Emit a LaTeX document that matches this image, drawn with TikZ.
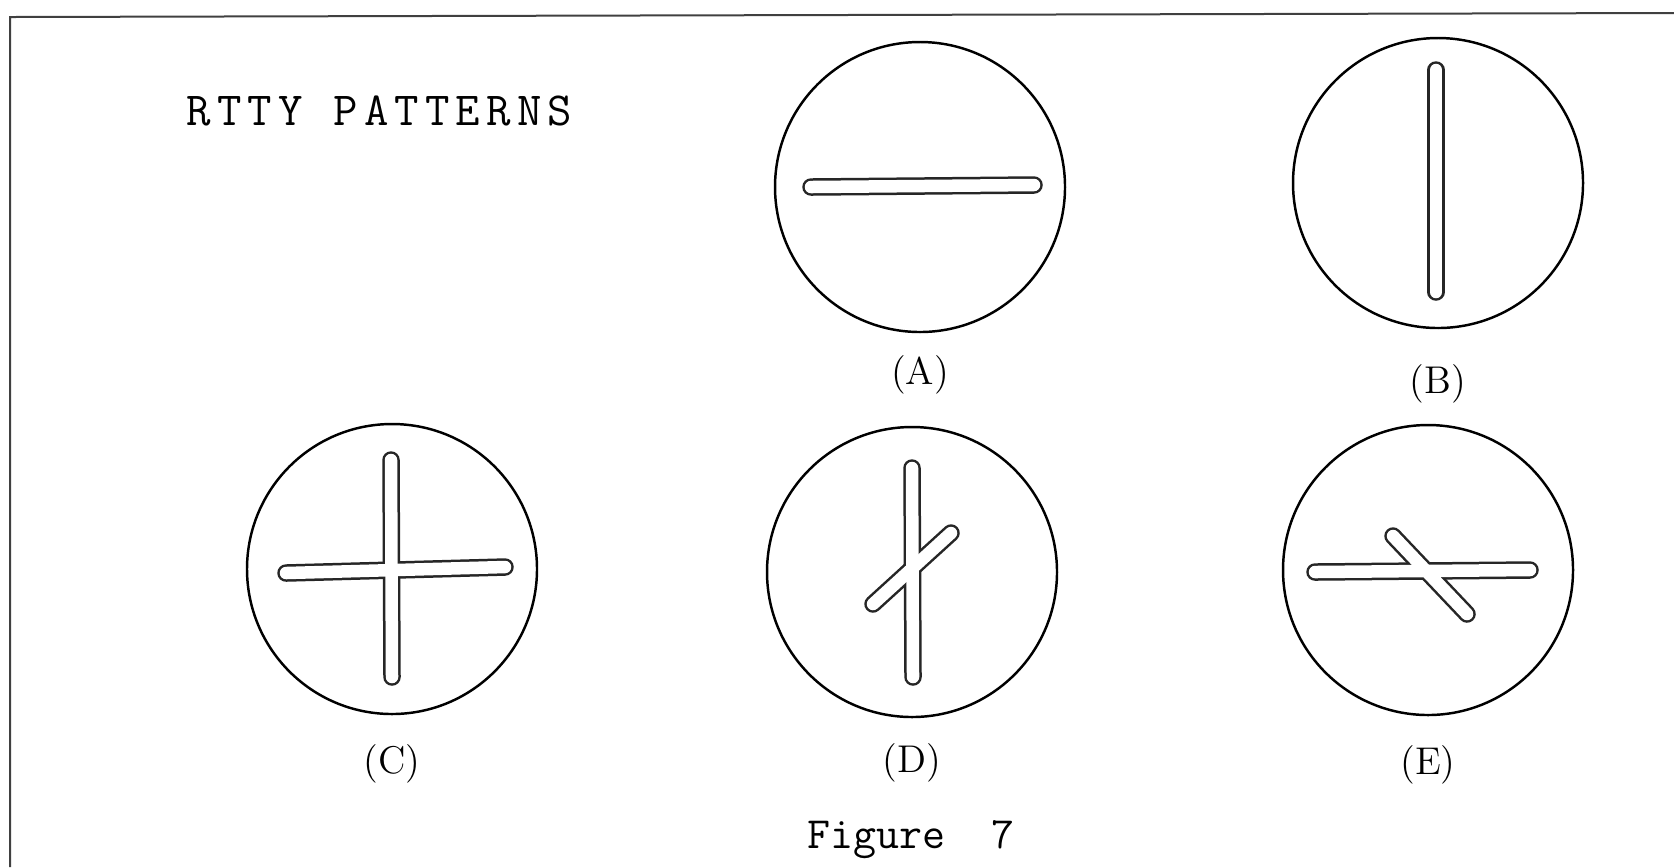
\documentclass[tikz,border=0pt]{standalone}
\usepackage{fontspec}
\newfontfamily\titlefont[LetterSpace=13]{Latin Modern Mono}
\usepackage{tikz}
\usetikzlibrary{positioning,calc}
\begin{document}
\begin{tikzpicture}[x=0.1mm, y=-0.1mm,
scopenode/.style={circle, draw=black, line width=0.7pt, minimum size=29mm, inner sep=0pt},
tagnode/.style={font=\fontsize{11}{13}\selectfont},
titlenode/.style={font=\ttfamily\fontsize{12.7}{15}\selectfont, inner sep=0pt, anchor=base west},
traceout/.style={line width=1.75mm, line cap=round, black!85},
tracein/.style={line width=1.25mm, line cap=round, white}
]
\useasboundingbox (0,0) rectangle (1674,867);
%Frame
\draw[black!75, line width=0.2mm] (1674,13) -- (10,17) -- (10,867);
%Titles
\node[titlenode, font=\titlefont\fontsize{13.5}{16}\selectfont] (T) at (186,125) {RTTY PATTERNS};
\node[titlenode] (F) at (807,848) {Figure\ \ 7};
%Scopes
\node[scopenode] (A) at (920,187) {};
\node[scopenode] (B) at (1438,183) {};
\node[scopenode] (C) at (392,569) {};
\node[scopenode] (D) at (912,572) {};
\node[scopenode] (E) at (1428,570) {};
%Labels
\node[tagnode] (LA) [below=1mm of A] {(A)};
\node[tagnode] (LB) [below=2.3mm of B] {(B)};
\node[tagnode] (LC) [below=1.7mm of C] {(C)};
\node[tagnode] (LD) [below=1.3mm of D] {(D)};
\node[tagnode] (LE) [below=1.7mm of E] {(E)};
%Trace ends
\coordinate (A1) at ($(A)+(-109,0)$);
\coordinate (A2) at ($(A)+(114,-2)$);
\coordinate (B1) at ($(B)+(-2,-113)$);
\coordinate (B2) at ($(B)+(-2,109)$);
\coordinate (C1) at ($(C)+(-1,-109)$);
\coordinate (C2) at ($(C)+(0,108)$);
\coordinate (C3) at ($(C)+(-106,4)$);
\coordinate (C4) at ($(C)+(113,-2)$);
\coordinate (D1) at ($(D)+(0,-104)$);
\coordinate (D2) at ($(D)+(1,105)$);
\coordinate (D3) at ($(D)+(-39,32)$);
\coordinate (D4) at ($(D)+(39,-39)$);
\coordinate (E1) at ($(E)+(-113,2)$);
\coordinate (E2) at ($(E)+(102,0)$);
\coordinate (E3) at ($(E)+(-35,-34)$);
\coordinate (E4) at ($(E)+(39,44)$);
%Traces
\draw[traceout] (A1) -- (A2);
\draw[traceout] (B1) -- (B2);
\draw[traceout] (C1) -- (C2);
\draw[traceout] (C3) -- (C4);
\draw[traceout] (D1) -- (D2);
\draw[traceout] (D3) -- (D4);
\draw[traceout] (E1) -- (E2);
\draw[traceout] (E3) -- (E4);
\draw[tracein] (A1) -- (A2);
\draw[tracein] (B1) -- (B2);
\draw[tracein] (C1) -- (C2);
\draw[tracein] (C3) -- (C4);
\draw[tracein] (D1) -- (D2);
\draw[tracein] (D3) -- (D4);
\draw[tracein] (E1) -- (E2);
\draw[tracein] (E3) -- (E4);
\end{tikzpicture}
\end{document}
